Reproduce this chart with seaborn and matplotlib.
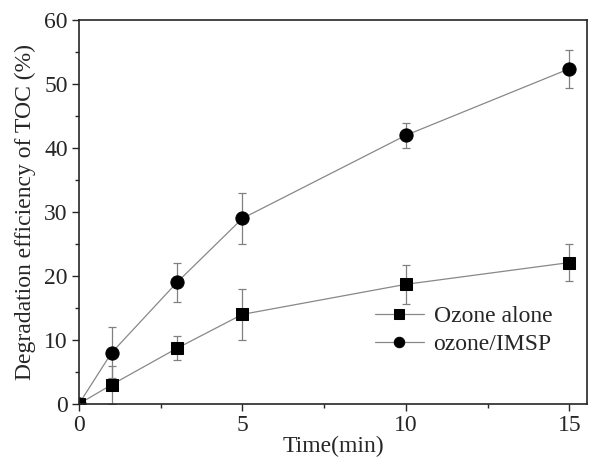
import matplotlib
matplotlib.use("Agg")
import matplotlib.pyplot as plt
import seaborn as sns
import pandas as pd
from matplotlib.ticker import MultipleLocator
from matplotlib import font_manager

time = [0, 1, 3, 5, 10, 15]
ozone_alone = [0, 3.0, 8.7, 14.0, 18.7, 22.1]
ozone_alone_err = [0, 3.0, 1.9, 4.0, 3.0, 2.9]
ozone_imsp = [0, 8.0, 19.0, 29.0, 42.0, 52.4]
ozone_imsp_err = [0, 4.0, 3.0, 4.0, 2.0, 3.0]
labels = ["Ozone alone", "ozone/IMSP"]

sns.set_style("ticks")
serif_name = None
for f in font_manager.fontManager.ttflist:
    if "LiberationSerif-Regular" in f.fname or (f.name == "Liberation Serif" and f.style == "normal" and f.weight in (400, "normal")):
        serif_name = f.name
        break
if serif_name is None:
    serif_name = "DejaVu Serif"
plt.rcParams['font.family'] = [serif_name, 'DejaVu Serif']

df = pd.concat([
    pd.DataFrame({"t": time, "v": ozone_alone, "s": labels[0]}),
    pd.DataFrame({"t": time, "v": ozone_imsp, "s": labels[1]}),
])

fig = plt.figure(figsize=(5.89, 4.59), dpi=100)
ax = fig.add_axes([0.134, 0.12, 0.863, 0.836])

for lab, vals, errs in [(labels[0], ozone_alone, ozone_alone_err),
                        (labels[1], ozone_imsp, ozone_imsp_err)]:
    ax.errorbar(time, vals, yerr=errs, fmt="none", ecolor="#808080",
                elinewidth=0.9, capsize=3, capthick=0.9, zorder=1)

sns.lineplot(data=df, x="t", y="v", hue="s", style="s",
             markers={labels[0]: "s", labels[1]: "o"}, dashes=False,
             palette={labels[0]: "#888888", labels[1]: "#888888"},
             linewidth=0.9, markersize=8.5, markeredgecolor="black",
             markerfacecolor="black", ax=ax, zorder=2)
for ln in ax.lines:
    if ln.get_marker() == "o":
        ln.set_markersize(9.5)

ax.set_xlim(0, 15.55)
ax.set_ylim(0, 60)
ax.xaxis.set_major_locator(MultipleLocator(5))
ax.xaxis.set_minor_locator(MultipleLocator(2.5))
ax.yaxis.set_major_locator(MultipleLocator(10))
ax.yaxis.set_minor_locator(MultipleLocator(5))
ax.tick_params(which="major", length=5, width=1, labelsize=17, direction="out", pad=3)
ax.tick_params(which="minor", length=3, width=1, direction="out")
for sp in ax.spines.values():
    sp.set_linewidth(1.2)
    sp.set_visible(True)

ax.set_xlabel("Time(min)", fontsize=17, labelpad=0)
ax.set_ylabel("Degradation efficiency of TOC (%)", fontsize=17, labelpad=6)

leg = ax.legend(loc="upper left", bbox_to_anchor=(0.563, 0.28), frameon=False,
                fontsize=17, handlelength=2.1, handletextpad=0.4,
                labelspacing=0.25, borderaxespad=0)
for h in leg.legend_handles:
    h.set_markerfacecolor("black")
    h.set_markeredgecolor("black")
    h.set_markersize(7.5)

fig.savefig("out.png", dpi=100)
